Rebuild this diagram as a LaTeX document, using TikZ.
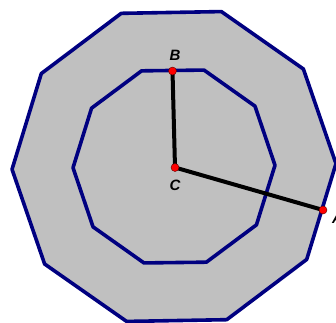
\documentclass[tikz,border=0pt]{standalone}
\usepackage{fontspec}
\setsansfont{Liberation Sans}
\usetikzlibrary{calc}
\begin{document}
\begin{tikzpicture}[x=1pt,y=-1pt,
  poly/.style={draw={rgb,255:red,0;green,0;blue,128},fill={rgb,255:red,192;green,192;blue,192},line width=3.6pt,line join=round},
  seg/.style={draw=black,line width=4pt},
  pt/.style={circle,fill=red,draw={rgb,255:red,90;green,0;blue,0},line width=0.4pt,inner sep=0pt,minimum size=8pt},
  lbl/.style={font=\sffamily\bfseries\itshape\fontsize{15}{15}\selectfont,inner sep=0pt}]
\useasboundingbox (0,0) rectangle (336,322);
\clip (0,0) rectangle (336,322);
\coordinate (O) at (174,166.5);
\draw[poly] ($(O)+(-1:162)$) \foreach \k in {1,...,9}{ -- ($(O)+(36*\k-1:162)$)} -- cycle;
\draw[poly] ($(O)+(-0.7:101)$) \foreach \k in {1,...,9}{ -- ($(O)+(36*\k-0.7:101)$)} -- cycle;
\coordinate (Cp) at (175,167.5);
\coordinate (Bp) at (172.5,71);
\coordinate (Ap) at (323,210);
\draw[seg] (Cp) -- (Bp);
\draw[seg] (Cp) -- (Ap);
\node[pt] (C) at (Cp) {};
\node[pt] (B) at (Bp) {};
\node[pt] (A) at (Ap) {};
\node[lbl] (Bl) at (175,55.5) {B};
\node[lbl] (Cl) at (175,185) {C};
\node[lbl,anchor=west] (Al) at (332,218) {A};
\end{tikzpicture}
\end{document}
